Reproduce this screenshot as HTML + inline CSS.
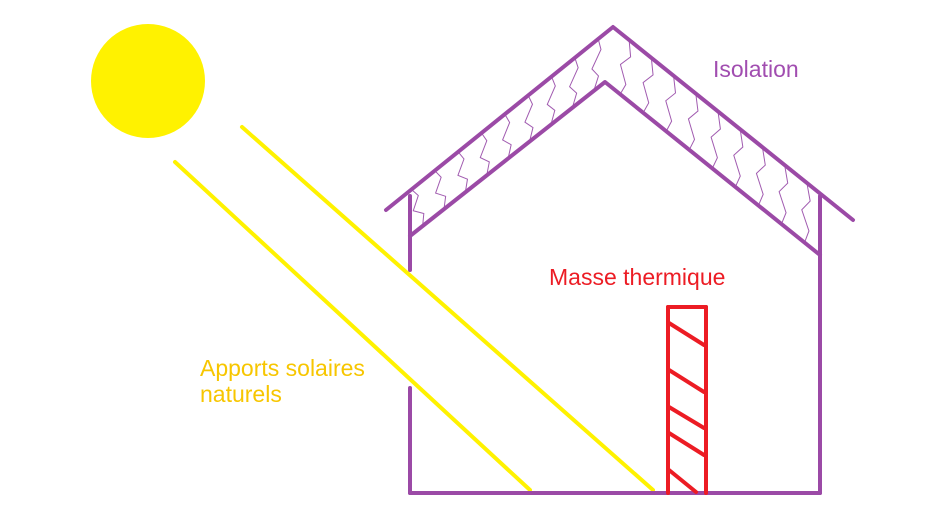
<!DOCTYPE html>
<html><head><meta charset="utf-8"><style>
html,body{margin:0;padding:0;background:#fff;width:945px;height:516px;overflow:hidden}
svg{display:block}
text{font-family:"Liberation Sans",sans-serif;font-size:23px}
</style></head><body>
<svg width="945" height="516" viewBox="0 0 945 516" xmlns="http://www.w3.org/2000/svg">
<circle cx="148" cy="81" r="57" fill="#fff200"/>
<g stroke="#fff200" stroke-width="4" stroke-linecap="round">
<line x1="175" y1="162" x2="530" y2="490"/>
<line x1="242" y1="127" x2="653" y2="490"/>
</g>
<g id="sq" fill="none" stroke="#a15bb0" stroke-width="1"></g>
<g stroke="#9b4aa6" stroke-width="4" fill="none" stroke-linecap="round" stroke-linejoin="round">
<polyline points="386,210 613,27 853,220"/>
<polyline points="410,236 605,82 820,255"/>
<line x1="410" y1="196" x2="410" y2="270"/>
<line x1="410" y1="388" x2="410" y2="493"/>
<line x1="820" y1="196" x2="820" y2="493"/>
<line x1="410" y1="493" x2="820" y2="493"/>
</g>
<g stroke="#ec1c24" stroke-width="4" fill="none" stroke-linecap="round">
<line x1="668" y1="307" x2="668" y2="493"/>
<line x1="706" y1="307" x2="706" y2="493"/>
<line x1="668" y1="307" x2="706" y2="307"/>
<line x1="669" y1="323" x2="704" y2="345"/>
<line x1="669" y1="370" x2="704" y2="392"/>
<line x1="669" y1="407" x2="704" y2="428"/>
<line x1="669" y1="433" x2="704" y2="455"/>
<line x1="669" y1="470" x2="696" y2="492"/>
</g>
<text x="713" y="77" fill="#a14db0">Isolation</text>
<text x="549" y="285" fill="#ec1c24">Masse thermique</text>
<text x="200" y="376" fill="#f7c600">Apports solaires</text>
<text x="200" y="402" fill="#f7c600">naturels</text>
</svg>
<script>
(function(){
var g=document.getElementById('sq'),ns='http://www.w3.org/2000/svg';
function L(a,b,t){return [a[0]+(b[0]-a[0])*t,a[1]+(b[1]-a[1])*t];}
function band(o1,o2,i1,i2,n){
 for(var k=0;k<n;k++){
  var t=(k+0.5)/n, p=L(o1,o2,t), q=L(i1,i2,t);
  var dx=(o2[0]-o1[0]),dy=(o2[1]-o1[1]),len=Math.hypot(dx,dy);dx/=len;dy/=len;
  var d='M'+p[0]+','+p[1];
  for(var s=1;s<=4;s++){
   var r=L(p,q,s/4), w=(s%2?5:-5)*(s<4?1:0);
   d+=' L'+(r[0]+dx*w)+','+(r[1]+dy*w);
  }
  var e=document.createElementNS(ns,'path');e.setAttribute('d',d);g.appendChild(e);
 }
}
band([400,199],[610,30],[412,234],[604,84],9);
band([618,31],[818,192],[608,86],[816,252],9);
})();
</script>
</body></html>
